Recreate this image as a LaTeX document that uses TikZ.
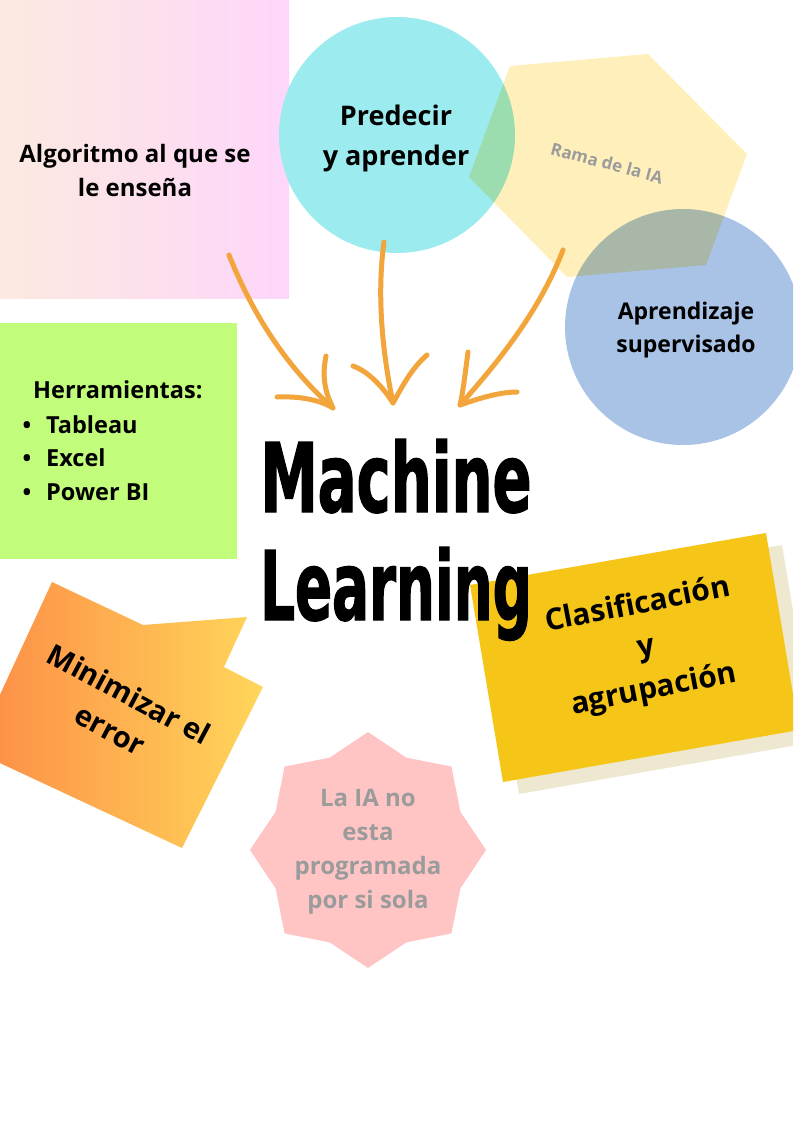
\documentclass[tikz,border=0pt]{standalone}
\usepackage{fontspec}
\setmainfont{Open Sans}
\newfontfamily\mlfont{DejaVu Sans}[FakeStretch=0.6, FakeBold=1.2]
\definecolor{pkL}{RGB}{252,234,224}
\definecolor{pkR}{RGB}{253,214,250}
\definecolor{cyanc}{RGB}{155,235,239}
\definecolor{hexc}{RGB}{255,240,187}
\definecolor{bluec}{RGB}{169,195,230}
\definecolor{limec}{RGB}{193,253,122}
\definecolor{arrowc}{RGB}{242,165,58}
\definecolor{orL}{RGB}{253,140,70}
\definecolor{orR}{RGB}{255,214,90}
\definecolor{goldc}{RGB}{245,197,24}
\definecolor{shadc}{RGB}{238,232,208}
\definecolor{starc}{RGB}{255,197,197}
\definecolor{greyt}{RGB}{155,155,155}
\begin{document}
\begin{tikzpicture}[x=1pt,y=-1pt,
  every node/.style={inner sep=0pt},
  txt/.style={font=\bfseries, align=center, text=black},
  arrowline/.style={draw=arrowc, line width=5pt, line cap=round, line join=round}]
\useasboundingbox (0,0) rectangle (793,1122);
\clip (0,0) rectangle (793,1122);
\fill[white] (0,0) rectangle (793,1122);
% pink box
\shade[left color=pkL, right color=pkR] (0,0) rectangle (289,298);
% circles
\fill[cyanc] (397,135) circle (118);
\fill[bluec] (683,327) circle (118);
% hexagon
\fill[hexc, blend mode=multiply] (510,66) -- (648,54) -- (747,154) -- (706,265) -- (567,277) -- (469,177) -- cycle;
% green box
\fill[limec] (0,323) rectangle (237,559);
% yellow card with shadow
\fill[shadc] (486,597) -- (782,545) -- (815,742) -- (519,794) -- cycle;
\fill[goldc] (470,585) -- (766,533) -- (799,730) -- (503,782) -- cycle;
% orange tag
\shade[left color=orL, right color=orR] (52,582) -- (143,625) -- (247,617) -- (224,667) -- (263,687) -- (182,848) -- (-26,751) -- cycle;
% star
\fill[starc, shift={(368,850)}] (90:118) -- (112.5:100) -- (135:118) -- (157.5:100) -- (180:118) -- (202.5:100) -- (225:118) -- (247.5:100) -- (270:118) -- (292.5:100) -- (315:118) -- (337.5:100) -- (0:118) -- (22.5:100) -- (45:118) -- (67.5:100) -- cycle;
% arrows
\coordinate (a1s) at (229,255); \coordinate (a1t) at (333,408);
\coordinate (a1b) at (326,356); \coordinate (a1c) at (277,397);
\coordinate (a2s) at (384,242); \coordinate (a2t) at (393,403);
\coordinate (a2b) at (353,366); \coordinate (a2c) at (427,355);
\coordinate (a3s) at (563,250); \coordinate (a3t) at (460,405);
\coordinate (a3b) at (468,352); \coordinate (a3c) at (517,392);
\draw[arrowline] (a1s) .. controls (255,320) and (290,370) .. (a1t);
\draw[arrowline] (a1b) .. controls (321,380) and (327,396) .. (a1t) .. controls (320,400) and (300,396) .. (a1c);
\draw[arrowline] (a2s) .. controls (376,300) and (384,360) .. (a2t);
\draw[arrowline] (a2b) .. controls (370,372) and (385,390) .. (a2t) .. controls (403,385) and (412,368) .. (a2c);
\draw[arrowline] (a3s) .. controls (540,310) and (500,360) .. (a3t);
\draw[arrowline] (a3b) .. controls (465,375) and (463,392) .. (a3t) .. controls (480,398) and (500,392) .. (a3c);
% texts
\node[txt, font=\bfseries\fontsize{24}{34}\selectfont] (algo) at (135,170) {Algoritmo al que se\\le enseña};
\node[txt, font=\bfseries\fontsize{27}{40}\selectfont] (pred) at (396,138) {Predecir\\y aprender};
\node[txt, text=greyt, rotate=-15, font=\bfseries\fontsize{17}{20}\selectfont] (rama) at (607,163) {Rama de la IA};
\node[txt, font=\bfseries\fontsize{23}{33}\selectfont] (aprend) at (686,330) {Aprendizaje\\supervisado};
\node[txt, anchor=base west, font=\bfseries\fontsize{23.5}{34}\selectfont] (herr) at (33,398) {Herramientas:};
\node[txt, anchor=base, font=\bfseries\fontsize{23}{34}\selectfont] (bu1) at (27,433) {•};
\node[txt, anchor=base, font=\bfseries\fontsize{23}{34}\selectfont] (bu2) at (27,466) {•};
\node[txt, anchor=base, font=\bfseries\fontsize{23}{34}\selectfont] (bu3) at (27,500) {•};
\node[txt, anchor=base west, font=\bfseries\fontsize{23.5}{34}\selectfont] (t1) at (46,433) {Tableau};
\node[txt, anchor=base west, font=\bfseries\fontsize{23.5}{34}\selectfont] (t2) at (46,466) {Excel};
\node[txt, anchor=base west, font=\bfseries\fontsize{23.5}{34}\selectfont] (t3) at (46,500) {Power BI};
\node[anchor=base, font=\mlfont\bfseries\fontsize{96}{100}\selectfont] (ml1) at (396,512) {Machine};
\node[anchor=base, font=\mlfont\bfseries\fontsize{96}{100}\selectfont, xscale=0.95] (ml2) at (396,620) {Learning};
\node[txt, rotate=-28, font=\bfseries\fontsize{29}{40}\selectfont] (minim) at (120,712) {Minimizar el\\error};
\node[txt, rotate=11, font=\bfseries\fontsize{30}{43}\selectfont] (clas) at (646,648) {Clasificación\\y\\agrupación};
\node[txt, text=greyt, font=\bfseries\fontsize{24}{34}\selectfont] (startxt) at (368,852) {La IA no\\esta\\programada\\por si sola};
\end{tikzpicture}
\end{document}
